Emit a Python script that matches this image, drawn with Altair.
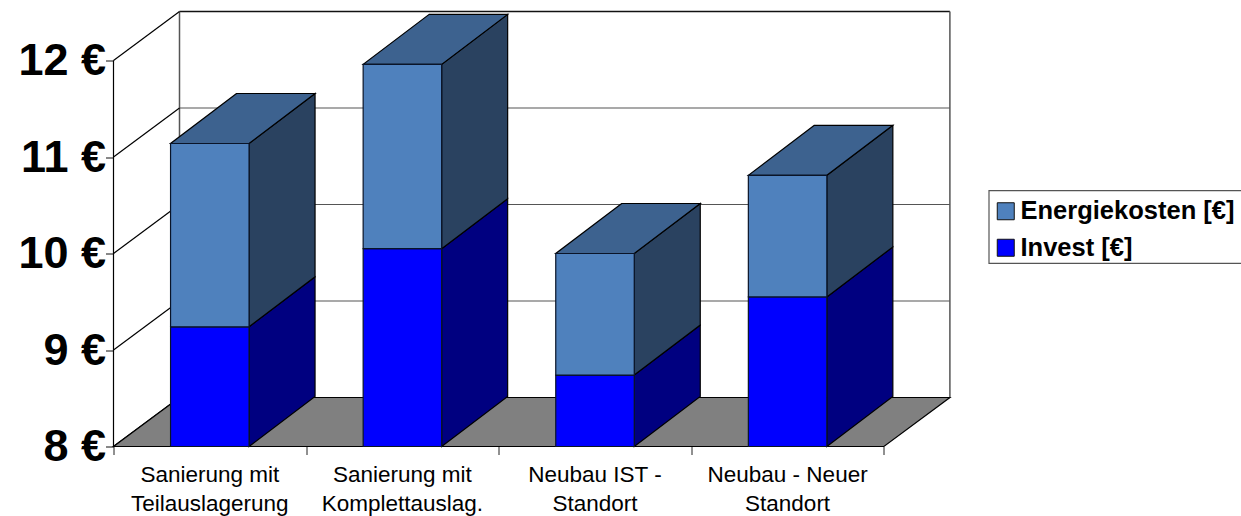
import altair as alt
import pandas as pd

categories = ["Sanierung mit\nTeilauslagerung", "Sanierung mit\nKomplettauslag.",
              "Neubau IST -\nStandort", "Neubau - Neuer\nStandort"]
invest_top = [9.24, 10.05, 8.74, 9.55]
energie_height = [1.90, 1.91, 1.26, 1.26]
series_names = ["Energiekosten [€]", "Invest [€]"]
y_ticks = [8, 9, 10, 11, 12]

FONT = "Liberation Sans"
FRONT = ["#4F81BD", "#0000FF"]
SIDE_ENERGY, SIDE_INVEST, TOP_ENERGY = "#2A4260", "#000080", "#3D628F"

# Oblique projection: depth expressed in data units of each axis.
PLOT_W, PLOT_H = 836.5, 435
BAND_PX, UNIT_PX = 192.6, 96.5
BAR_W = 78.5 / BAND_PX
DX = 66 / BAND_PX
DY = 49 / UNIT_PX
BAR_DY = 50 / UNIT_PX
BASE = 8
N = len(categories)

x_scale = alt.Scale(domain=[0, PLOT_W / BAND_PX], nice=False, zero=False)
y_scale = alt.Scale(domain=[BASE, BASE + PLOT_H / UNIT_PX], nice=False, zero=False)

X = lambda f="x", **kw: alt.X(f"{f}:Q", scale=x_scale, title=None, **kw)
Y = lambda f="y", **kw: alt.Y(f"{f}:Q", scale=y_scale, title=None, stack=None, **kw)

fronts, sides, tops = [], [], []
for i, (inv, en) in enumerate(zip(invest_top, energie_height)):
    left = i + 0.5 - BAR_W / 2
    right = left + BAR_W
    for name, low, high in ((series_names[1], BASE, inv), (series_names[0], inv, inv + en)):
        fronts.append(dict(series=name, x=left, x2=right, y=low, y2=high))
        for x, d in ((right, 0), (right + DX, BAR_DY)):
            sides.append(dict(key=f"{i}{name}", series=name, x=x, y=low + d, y2=high + d))
    tops.append(dict(key=i, y=inv + en, x=left, x2=right))
    tops.append(dict(key=i, y=inv + en + BAR_DY, x=left + DX, x2=right + DX))

fronts, sides, tops = map(pd.DataFrame, (fronts, sides, tops))

# Wall and floor outlines
floor = pd.DataFrame([dict(y=BASE, x=0, x2=N), dict(y=BASE + DY, x=DX, x2=N + DX)])
left_wall = pd.DataFrame([dict(x=0, x2=DX, y=v, y2=v + DY) for v in y_ticks])
grid = pd.DataFrame([dict(x=DX, x2=N + DX, y=v + DY) for v in y_ticks[1:-1]])
top_edge = pd.DataFrame([dict(x=DX, x2=N + DX, y=y_ticks[-1] + DY)])
verticals = pd.DataFrame([dict(x=DX, y=BASE + DY, y2=y_ticks[-1] + DY),
                          dict(x=N + DX, y=BASE + DY, y2=y_ticks[-1] + DY)])
front_v = pd.DataFrame([dict(x=0, y=BASE, y2=y_ticks[-1])])
front_h = pd.DataFrame([dict(x=0, x2=N, y=BASE)])

axes = alt.Chart(pd.DataFrame({"x": [0], "y": [BASE]})).mark_point(opacity=0).encode(
    x=X(axis=alt.Axis(values=list(range(N + 1)), labels=False, domain=False, grid=False,
                      ticks=True, tickSize=8, tickColor="#222", tickWidth=1)),
    y=Y(axis=alt.Axis(values=y_ticks, labelExpr="datum.value + ' €'", domain=False, grid=False,
                      tickSize=8, tickColor="#111", tickWidth=1, labelPadding=0,
                      labelFont=FONT, labelFontWeight="bold", labelFontSize=45,
                      labelColor="black")),
)


def rule(df, color, width=1.0):
    enc = dict(x=X(), y=Y())
    if "x2" in df:
        enc["x2"] = "x2:Q"
    if "y2" in df:
        enc["y2"] = "y2:Q"
    return alt.Chart(df).mark_rule(color=color, strokeWidth=width).encode(**enc)


def flat_area(df, fill):
    return alt.Chart(df).mark_area(orient="horizontal", fill=fill, stroke="black", strokeWidth=1.2).encode(
        y=Y(), x=X(), x2="x2:Q", detail="key:N" if "key" in df else alt.Undefined)


def side_area(name, fill):
    part = sides[sides.series == name]
    return alt.Chart(part).mark_area(fill=fill, stroke="black", strokeWidth=1.2).encode(
        x=X(), y=Y(), y2="y2:Q", detail="key:N")


front_faces = alt.Chart(fronts).mark_rect(stroke="#0a1428", strokeWidth=1.2).encode(
    x=X(), x2="x2:Q", y=Y(), y2="y2:Q",
    color=alt.Color("series:N",
                    scale=alt.Scale(domain=series_names, range=FRONT),
                    legend=alt.Legend(orient="none", legendX=875.5, legendY=179, title=None,
                                      symbolType="square", symbolSize=289, symbolOffset=-4,
                                      symbolStrokeColor="#111", symbolStrokeWidth=1,
                                      symbolOpacity=1, labelFont=FONT, labelFontWeight="bold",
                                      labelFontSize=25.5, labelColor="black", labelLimit=400,
                                      labelOffset=2, rowPadding=9.5, padding=8)),
)

# Frame around the legend, running off the right edge of the canvas
legend_frame = alt.Chart(pd.DataFrame({"frame": [0]})).mark_rect(
    fill="white", stroke="#555", strokeWidth=1.2
).encode(x=alt.value(875.5), x2=alt.value(1135), y=alt.value(179.2), y2=alt.value(251.8))

labels_df = pd.DataFrame({"x": [i + 0.5 for i in range(N)], "label": categories})
labels = alt.Chart(labels_df).mark_text(
    font=FONT, fontSize=22.5, color="black", lineBreak="\n", lineHeight=29,
    baseline="top", align="center", dy=0,
).encode(x=X(), y=alt.value(PLOT_H + 17), text="label:N")

chart = alt.layer(
    axes,
    legend_frame,
    rule(grid, "#555", 1.2),
    rule(top_edge, "#111", 1.5),
    rule(verticals, "#555", 1.5),
    rule(left_wall, "black", 1.2),
    flat_area(floor, "#808080"),
    rule(front_v, "black", 1.2),
    rule(front_h, "black", 1.2),
    side_area(series_names[1], SIDE_INVEST),
    side_area(series_names[0], SIDE_ENERGY),
    flat_area(tops, TOP_ENERGY),
    front_faces,
    labels,
).properties(
    width=PLOT_W, height=PLOT_H, background="white",
    padding={"left": 113.5, "top": 11.5, "right": 291, "bottom": 69.5},
    autosize=alt.AutoSizeParams(type="none"),
).configure_view(stroke=None)

chart.save("out.html", embed_options={"renderer": "svg", "actions": False})
